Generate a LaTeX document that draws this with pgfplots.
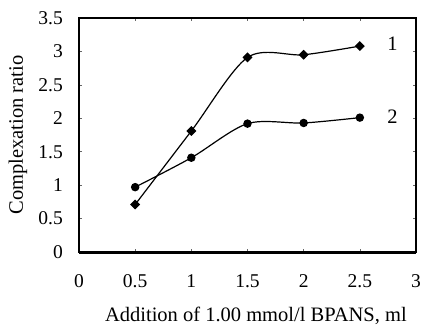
\documentclass[border=0pt]{standalone}
\usepackage{pgfplots}
\pgfplotsset{compat=1.18}
\usepackage{fontspec}
\setmainfont{Liberation Serif}
\begin{document}
\begin{tikzpicture}
\useasboundingbox (0,0) rectangle (421pt,325pt);
\begin{axis}[
  at={(79pt,73pt)}, anchor=south west,
  scale only axis, width=337pt, height=234pt,
  xmin=0, xmax=3, ymin=0, ymax=3.5,
  xtick={0,0.5,...,3}, ytick={0,0.5,...,3.5},
  tick align=inside, major tick length=3pt,
  tick style={black!60, line width=0.5pt},
  axis line style={line width=2pt},
  /pgf/number format/assume math mode=true,
  ticklabel style={font=\fontsize{19.5}{22}\selectfont, inner sep=0pt},
  xticklabel style={anchor=center, yshift=-29pt},
  yticklabel style={anchor=east, xshift=-16pt},
  xlabel={Addition of 1.00 mmol/l BPANS, ml},
  ylabel={Complexation ratio},
  label style={font=\fontsize{20.5}{23}\selectfont, inner sep=0pt},
  xlabel style={at={(axis description cs:0.525,-0.2735)}, anchor=center},
  ylabel style={at={(axis description cs:-0.181,0.5)}, anchor=center},
  clip=false,
]
\draw[line width=3pt] (rel axis cs:0,0) -- (rel axis cs:1,0);
\addplot[black, line width=1.2pt, smooth, tension=0.5, mark=square*, mark size=2.9pt, mark options={solid, fill=black, rotate=45}]
  coordinates {(0.5,0.71) (1,1.81) (1.5,2.91) (2,2.95) (2.5,3.08)};
\addplot[black, line width=1.2pt, smooth, tension=0.5, mark=*, mark size=3.6pt, mark options={solid, fill=black}]
  coordinates {(0.5,0.97) (1,1.41) (1.5,1.92) (2,1.93) (2.5,2.01)};
\node[font=\fontsize{20.5}{23}\selectfont] at (axis cs:2.79,3.12) {1};
\node[font=\fontsize{20.5}{23}\selectfont] at (axis cs:2.79,2.03) {2};
\end{axis}
\end{tikzpicture}
\end{document}
